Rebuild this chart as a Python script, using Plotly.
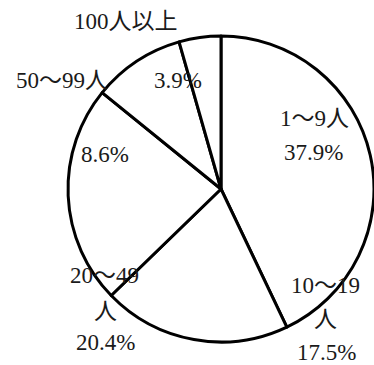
import plotly.graph_objects as go

# Workforce size categories and their shares (%)
categories = ["1～9人", "10～19人", "20～49人", "50～99人", "100人以上"]
shares = [37.9, 17.5, 20.4, 8.6, 3.9]

# Label lines and where each one sits (pixels from top-left of the 374x365 canvas)
label_lines = [
    ["1～9人", f"{shares[0]}%"],
    ["10～19", "人", f"{shares[1]}%"],
    ["20～49", "人", f"{shares[2]}%"],
    ["50～99人", f"{shares[3]}%"],
    ["100人以上", f"{shares[4]}%"],
]
label_xy = [
    [(314, 118), (313, 153)],
    [(325, 285), (325, 319), (326, 352)],
    [(104, 275), (105, 311), (105, 342)],
    [(62, 80), (105, 154)],
    [(126, 22), (178, 80)],
]

W, H = 374, 365
font_family = "Liberation Serif, Noto Sans CJK JP, serif"

fig = go.Figure(
    go.Pie(
        labels=categories,
        values=shares,
        sort=False,
        direction="clockwise",
        rotation=0,
        textinfo="none",
        hoverinfo="label+percent",
        marker=dict(colors=["white"] * len(categories),
                    line=dict(color="black", width=3)),
        domain=dict(x=[68 / W, 1.0], y=[23 / H, 329 / H]),
        showlegend=False,
    )
)

annotations = []
for lines, positions in zip(label_lines, label_xy):
    for txt, (px, py) in zip(lines, positions):
        annotations.append(dict(
            x=px / W, y=1 - py / H, xref="paper", yref="paper",
            text=txt, showarrow=False, xanchor="center", yanchor="middle",
            font=dict(family=font_family, size=23, color="#1a1a1a"),
        ))

fig.update_layout(
    width=W, height=H,
    margin=dict(l=0, r=0, t=0, b=0),
    paper_bgcolor="white", plot_bgcolor="white",
    annotations=annotations,
)

fig.write_html("out.html")
